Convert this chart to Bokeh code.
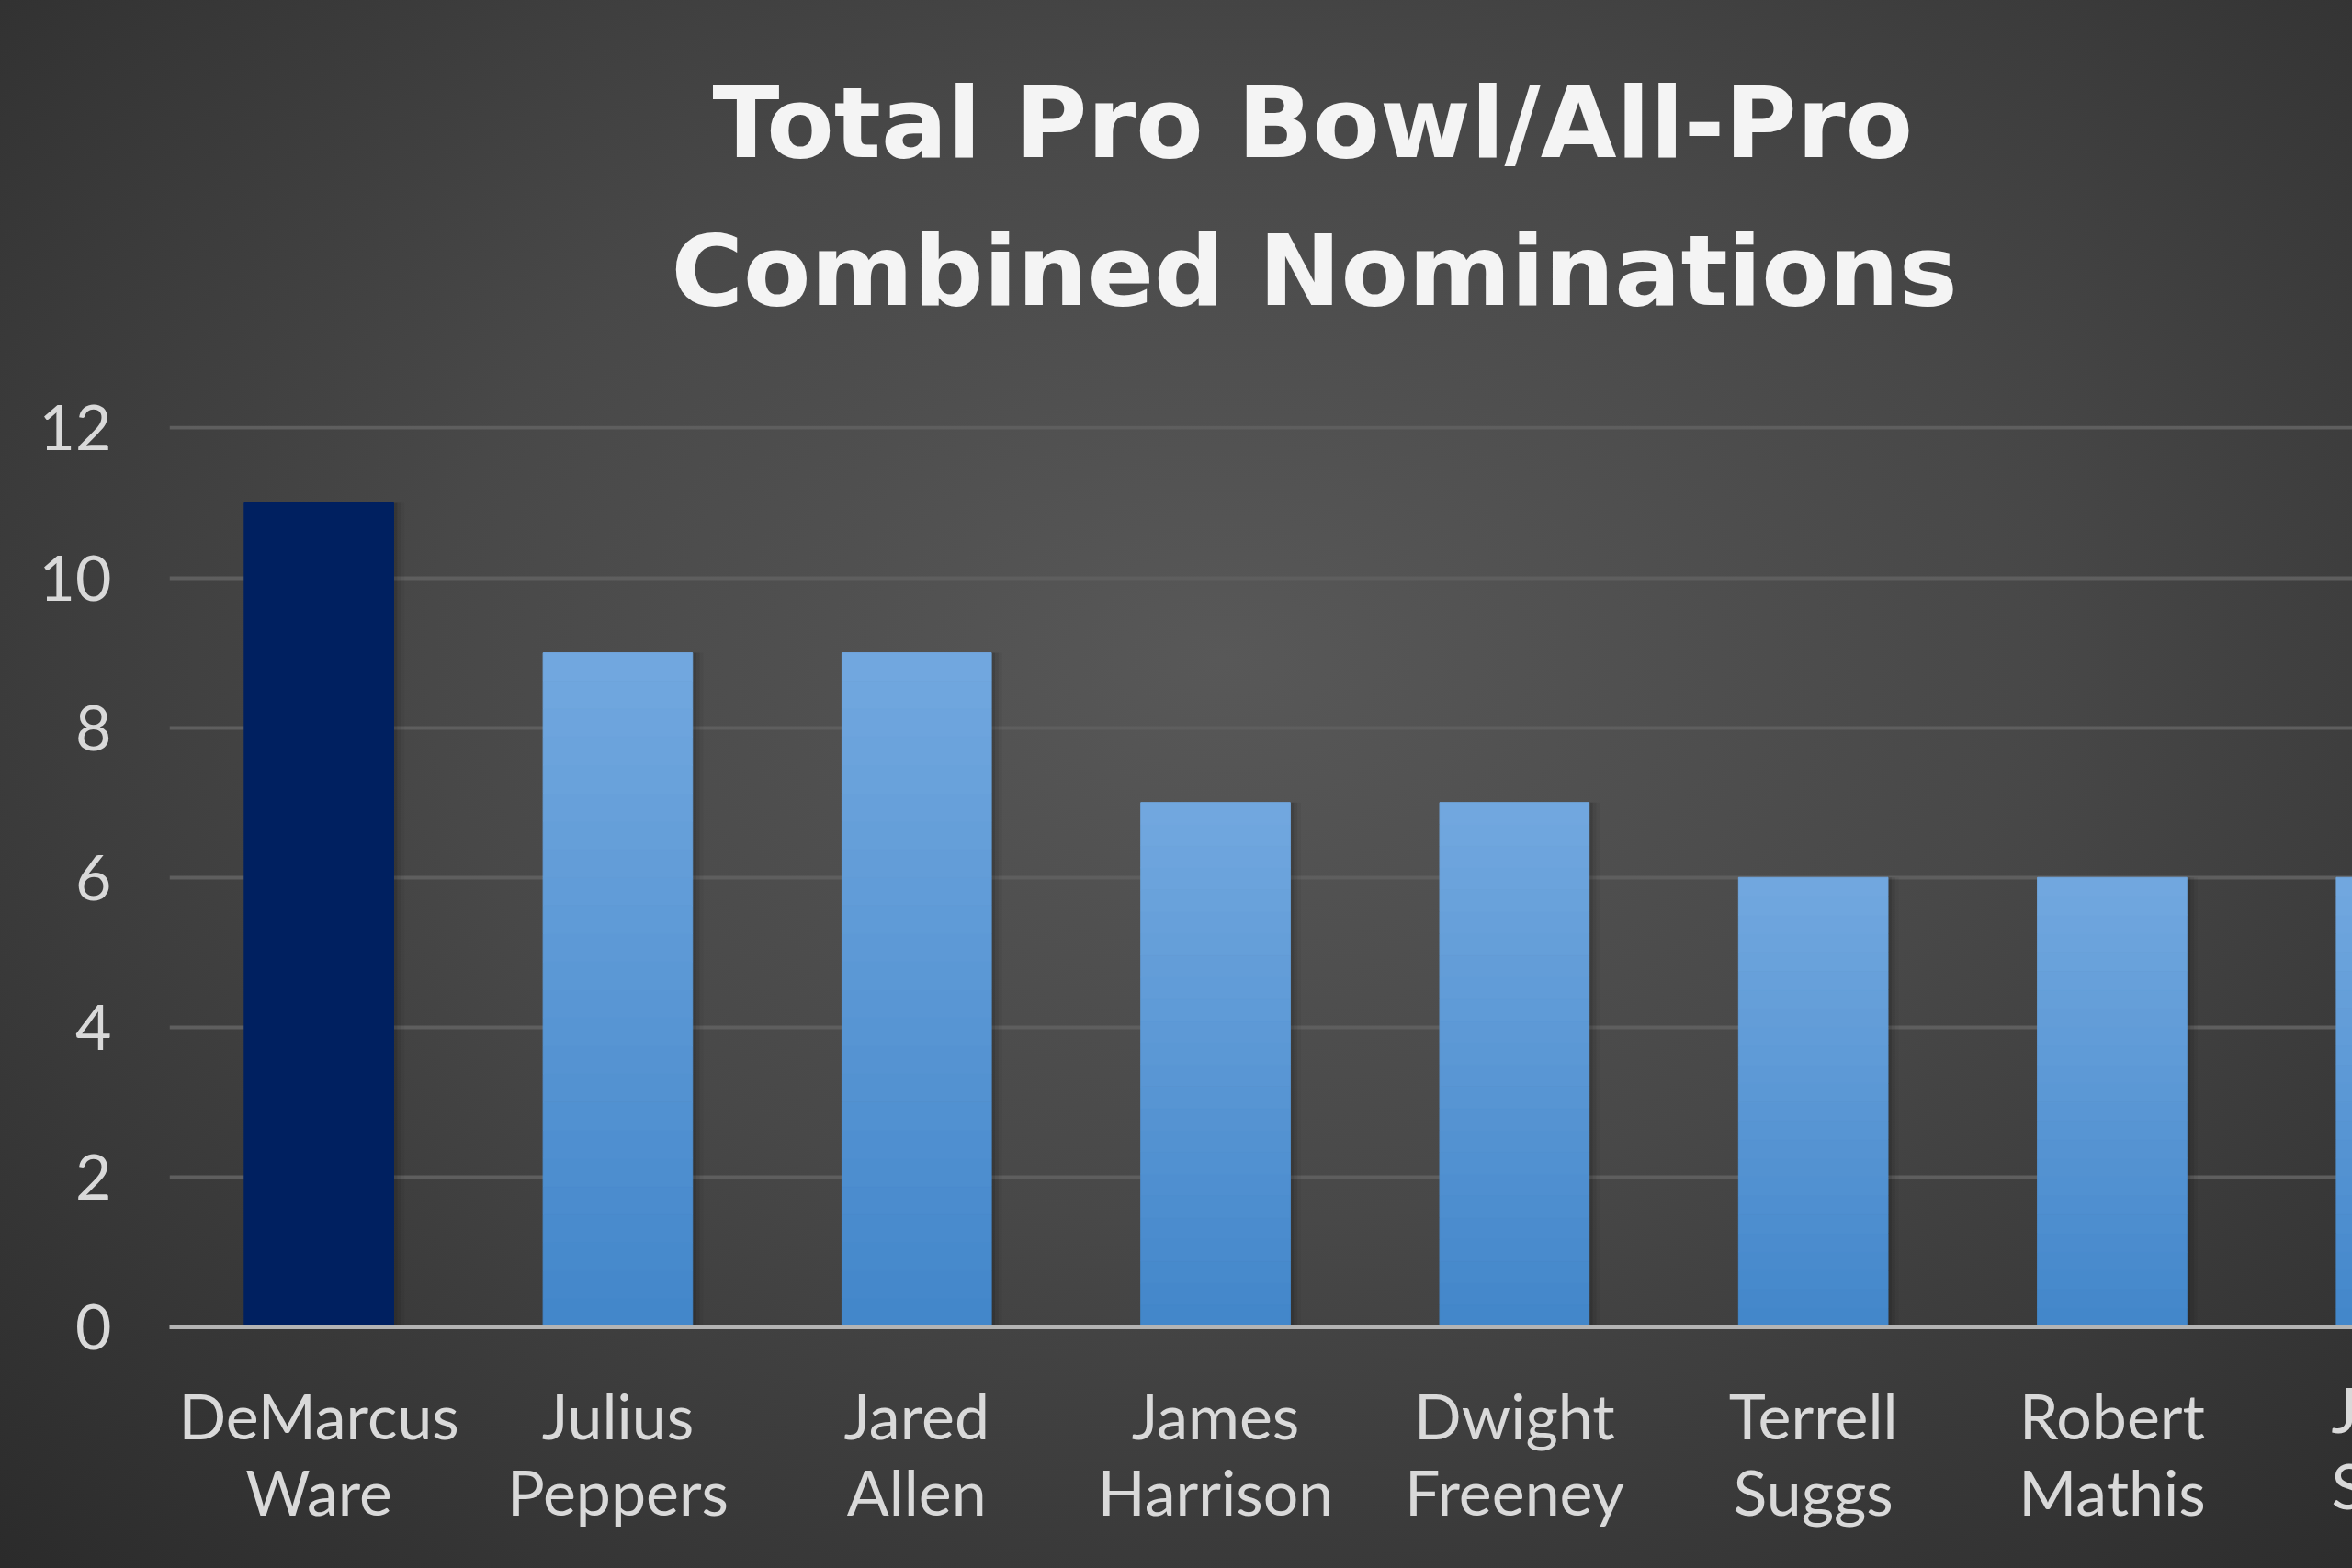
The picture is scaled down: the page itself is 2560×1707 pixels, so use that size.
from bokeh.plotting import figure
from bokeh.models import Range1d, FixedTicker, Title
from bokeh.embed import file_html
from bokeh.resources import INLINE
import numpy as np

# ---- data ----
players = ["DeMarcus Ware", "Julius Peppers", "Jared Allen", "James Harrison",
           "Dwight Freeney", "Terrell Suggs", "Robert Mathis", "Justin Smith"]
nominations = [11, 9, 9, 7, 7, 6, 6, 6]
y_ticks = [0, 2, 4, 6, 8, 10, 12]
title_lines = ["Total Pro Bowl/All-Pro", "Combined Nominations"]

W, H = 2560, 1707
x_idx = np.arange(len(players))

p = figure(width=W, height=H, output_backend="svg", toolbar_location=None,
           x_range=Range1d(-0.5, 6.804), y_range=Range1d(0, 12.03),
           min_border_left=184, min_border_right=0, min_border_top=463,
           min_border_bottom=263)
p.border_fill_color = None
p.background_fill_color = None
p.outline_line_color = None
p.styles = {"background": "radial-gradient(ellipse 75% 80% at 52% 42%, #585858 0%, #484848 45%, #2b2b2b 100%)"}

vals = np.array(nominations, dtype=float)

# soft shadow behind bars
for off, a in ((0.012, 0.10), (0.024, 0.07), (0.036, 0.04)):
    p.vbar(x=x_idx + off, width=0.5, bottom=0, top=vals, fill_color="black",
           fill_alpha=a, line_color=None)

# ---- bars (vertical gradient via stacked slices) ----
N = 24
top_c = np.array([0x72, 0xa8, 0xdf])
bot_c = np.array([0x42, 0x86, 0xca])
light_x = x_idx[1:]
light_v = vals[1:]
for k in range(N):
    t = (k + 0.5) / N
    c = bot_c + (top_c - bot_c) * t
    col = "#%02x%02x%02x" % tuple(int(round(v)) for v in c)
    p.vbar(x=light_x, width=0.5, bottom=light_v * k / N, top=light_v * (k + 1) / N,
           fill_color=col, line_color=col, line_width=1)
p.vbar(x=x_idx[:1], width=0.5, bottom=0, top=vals[:1], fill_color="#002060", line_color="#002060")

# ---- axes ----
p.yaxis.ticker = FixedTicker(ticks=y_ticks)
p.xaxis.ticker = FixedTicker(ticks=list(range(7)))
p.xaxis.major_label_overrides = {i: n.replace(" ", "\n") for i, n in enumerate(players)}
for ax in (p.xaxis, p.yaxis):
    ax.major_tick_line_color = None
    ax.minor_tick_line_color = None
    ax.major_tick_out = 0
    ax.minor_tick_out = 0
    ax.major_label_text_color = "#d9d9d9"
    ax.major_label_text_font = "Lato"
    ax.major_label_text_font_size = "68px"
p.yaxis.axis_line_color = None
p.yaxis.major_label_standoff = 63
p.xaxis.axis_line_color = "#b4b4b4"
p.xaxis.axis_line_width = 5
p.xaxis.major_label_standoff = 55
p.xaxis.major_label_text_line_height = 1.03

p.xgrid.grid_line_color = None
p.ygrid.grid_line_color = "#5e5e5e"
p.ygrid.grid_line_width = 4

# label of the 8th (partly visible) category at the right edge
p.add_layout(Title(text=players[7].replace(" ", "\n"), align="left", offset=2353,
                   vertical_align="top", standoff=-348, text_color="#d9d9d9",
                   text_font="Lato", text_font_style="normal", text_font_size="68px",
                   text_line_height=1.03), "below")

# ---- title (two lines) ----
title_style = dict(text_color="#f4f4f4", text_font="DejaVu Sans", text_font_style="bold",
                   text_font_size="107px", align="left")
p.add_layout(Title(text=title_lines[1], offset=546, standoff=213, **title_style), "above")
p.add_layout(Title(text=title_lines[0], offset=591, standoff=-143, **title_style), "above")

html = file_html(p, INLINE)
html = html.replace("<body>", '<body style="background:#2e2e2e">', 1)
open("out.html", "w").write(html)
